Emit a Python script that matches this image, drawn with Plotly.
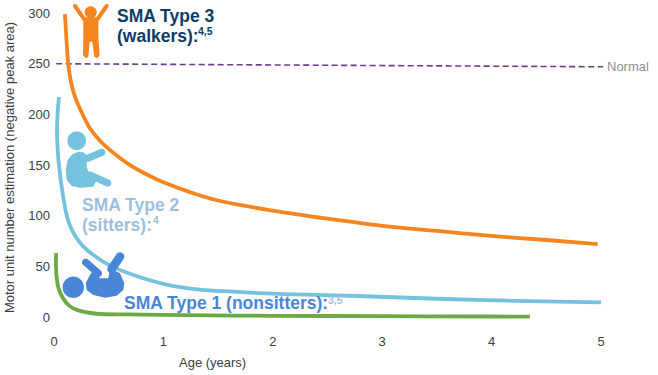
import math
import plotly.graph_objects as go

W, H = 658, 375
ML, MR, MT, MB = 54, 8, 5, 45

# Data
type3_age = [0.10, 0.11, 0.13, 0.155, 0.19, 0.24, 0.33, 0.42, 0.51, 0.695, 0.88, 1.0, 1.25, 1.5, 2.0, 2.5, 3.0, 3.5, 4.0, 4.5, 4.97]
type3_mune = [299, 281, 250, 232, 218, 205, 186, 174, 165, 150, 139, 133, 123, 115, 105, 97, 90, 85, 80, 76, 72]
type2_age = [0.045, 0.032, 0.028, 0.037, 0.055, 0.075, 0.11, 0.146, 0.2, 0.265, 0.375, 0.51, 0.74, 1.03, 1.33, 1.64, 2.0, 2.7, 3.5, 4.2, 5.0]
type2_mune = [217, 199, 180, 160, 141, 125, 103, 90, 79, 70, 60, 51, 41, 32, 27, 25, 23, 21, 18, 16, 14.5]
type1_age = [0.02, 0.018, 0.025, 0.04, 0.08, 0.14, 0.21, 0.39, 0.7, 1.0, 2.0, 3.0, 4.0, 4.35]
type1_mune = [63, 50, 38, 29, 19, 11, 7, 3.2, 2.5, 2, 1.2, 0.8, 0.5, 0.4]
normal_age = [0.02, 5.02]
normal_mune = [250, 247]
x_ticks = [0, 1, 2, 3, 4, 5]
y_ticks = [0, 50, 100, 150, 200, 250, 300]

ORANGE, SKY, GREEN, PURPLE, BABY = "#F5851F", "#74C2DE", "#6BAA46", "#6A3F8E", "#4A86D8"
FONT = "Liberation Sans, Arial, sans-serif"

PW, PH = W - ML - MR, H - MT - MB
px = lambda x: (x - ML) / PW
py = lambda y: 1 - (y - MT) / PH


def to_path(points):
    return "M" + "L".join(f"{px(x):.5f},{py(y):.5f}" for x, y in points) + "Z"


def capsule(x0, y0, x1, y1, r, n=10):
    a = math.atan2(y1 - y0, x1 - x0)
    pts = []
    for i in range(n + 1):
        t = a + math.pi / 2 + math.pi * i / n
        pts.append((x0 + r * math.cos(t), y0 + r * math.sin(t)))
    for i in range(n + 1):
        t = a - math.pi / 2 + math.pi * i / n
        pts.append((x1 + r * math.cos(t), y1 + r * math.sin(t)))
    return to_path(pts)


def ellipse(cx, cy, rx, ry, n=40):
    return to_path([(cx + rx * math.cos(2 * math.pi * i / n), cy + ry * math.sin(2 * math.pi * i / n)) for i in range(n)])


def icon(path, color):
    return dict(type="path", path=path, xref="paper", yref="paper", fillcolor=color,
                line=dict(width=0), layer="above")


def scaled(points, ox, oy):
    return [(ox + x / 3, oy + y / 3) for x, y in points]


def scap(x0, y0, x1, y1, r, ox, oy):
    return capsule(ox + x0 / 3, oy + y0 / 3, ox + x1 / 3, oy + y1 / 3, r / 3)


shapes = [
    # Walker
    icon(ellipse(90.7, 12.3, 6, 6), ORANGE),
    icon(scap(30, 18, 58, 58, 6, 65, 0), ORANGE),
    icon(scap(125, 18, 97, 58, 6, 65, 0), ORANGE),
    icon(to_path(scaled([(55, 52), (100, 52), (100, 110), (104, 165), (97, 175), (88, 170), (82, 125),
                         (74, 125), (70, 170), (62, 175), (54, 165), (55, 110)], 65, 0)), ORANGE),
    # Sitter
    icon(ellipse(76.7, 140.7, 9.3, 9.3), SKY),
    icon(to_path(scaled([(70, 80), (52, 88), (38, 105), (32, 135), (35, 165), (50, 183), (75, 188),
                         (115, 185), (125, 165), (100, 140), (95, 125), (95, 90), (85, 82)], 55, 125)), SKY),
    icon(scap(98, 100, 140, 82, 11, 55, 125), SKY),
    icon(scap(105, 150, 158, 174, 11, 55, 125), SKY),
    # Nonsitter
    icon(ellipse(73.3, 287.3, 10.7, 10.7), BABY),
    icon(to_path(scaled([(115, 75), (135, 100), (160, 100), (165, 70), (195, 85), (208, 115), (205, 135),
                         (185, 152), (150, 158), (115, 150), (95, 135), (92, 115), (105, 90)], 55, 245)), BABY),
    icon(scap(92, 52, 130, 85, 11, 55, 245), BABY),
    icon(scap(195, 35, 170, 72, 13, 55, 245), BABY),
]


def label(x, y, text, color, size=17.5, bold=True, anchor="left"):
    return dict(x=px(x), y=py(y), xref="paper", yref="paper", xanchor=anchor, yanchor="middle",
                text=f"<b>{text}</b>" if bold else text, showarrow=False,
                font=dict(family=FONT, size=size, color=color))


annotations = [
    label(115, 16, "SMA Type 3", "#0D3C66"),
    label(115, 36, "(walkers):", "#0D3C66"),
    label(196, 31, "4,5", "#0D3C66", 10.5),
    label(80, 205, "SMA Type 2", "#9CBFDD"),
    label(80, 225, "(sitters):", "#9CBFDD"),
    label(151, 220, "4", "#9CBFDD", 10.5),
    label(122, 303, "SMA Type 1 (nonsitters):", BABY),
    label(326, 300, "3,5", "#9CBFDD", 10.5),
    label(605, 66, "Normal", "#8C9196", 13, False),
    label(213, 362, "Age (years)", "#404040", 13, False, "center"),
]

fig = go.Figure()
fig.add_trace(go.Scatter(x=normal_age, y=normal_mune, mode="lines", name="Normal",
                         line=dict(color=PURPLE, width=1.6, dash="6px,3.5px")))
for name, xs, ys, col in [("SMA Type 3", type3_age, type3_mune, ORANGE),
                          ("SMA Type 2", type2_age, type2_mune, SKY),
                          ("SMA Type 1", type1_age, type1_mune, GREEN)]:
    fig.add_trace(go.Scatter(x=xs, y=ys, mode="lines", name=name,
                             line=dict(color=col, width=3.8, shape="spline", smoothing=1.0)))

tick_font = dict(family=FONT, size=13, color="#404040")
fig.update_layout(
    width=W, height=H, autosize=False, showlegend=False,
    paper_bgcolor="white", plot_bgcolor="white",
    margin=dict(l=ML, r=MR, t=MT, b=MB),
    shapes=shapes, annotations=annotations,
    xaxis=dict(range=[0, PW / 109.4], tickvals=x_ticks, showgrid=False, zeroline=False,
               showline=False, ticks="", tickfont=tick_font, ticklabelstandoff=2),
    yaxis=dict(range=[-13 / 1.013, 312 / 1.013], tickvals=y_ticks, showgrid=False, zeroline=False,
               showline=False, ticks="", tickfont=tick_font, ticklabelstandoff=3,
               title=dict(text="Motor unit number estimation (negative peak area)", font=dict(tick_font), standoff=10)),
)
fig.write_html("out.html", post_script="document.body.style.margin='0';", config={"displayModeBar": False})
